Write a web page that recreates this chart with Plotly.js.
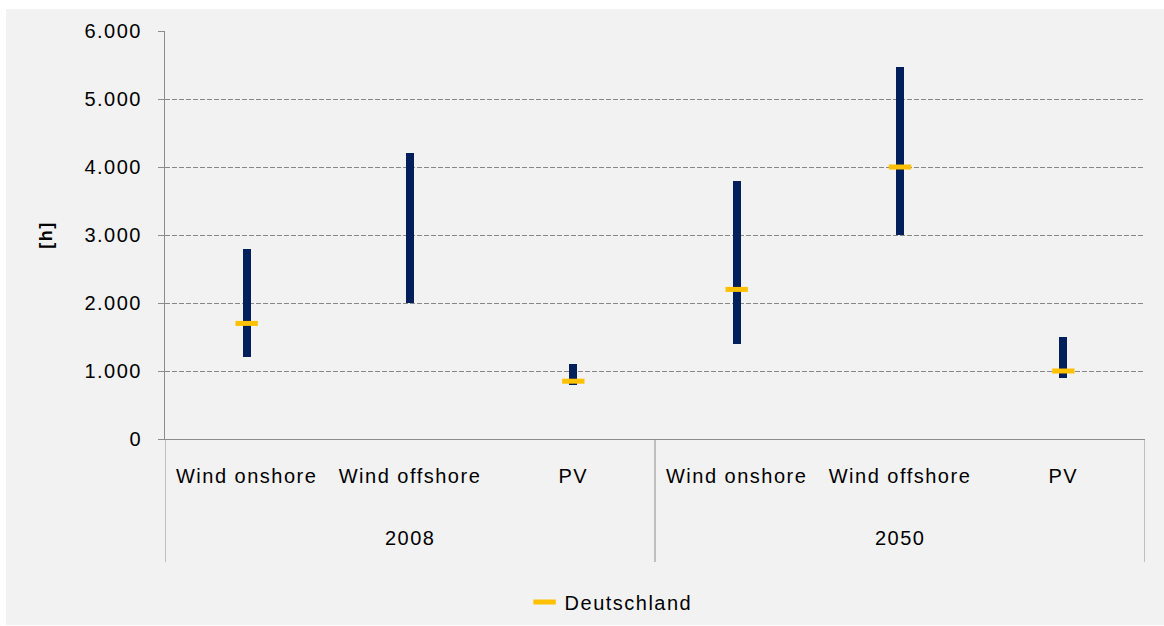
<!DOCTYPE html>
<html>
<head>
<meta charset="utf-8">
<script src="https://cdn.plot.ly/plotly-3.0.1.min.js"></script>
<style>
  html, body { margin: 0; padding: 0; background: #ffffff; }
  #chart { position: absolute; left: 6px; top: 9px; width: 1158px; height: 616px; }
  #chart text { letter-spacing: 1.5px; }
  #chart .legend, #chart .legend * { clip-path: none !important; }
</style>
</head>
<body>
<div id="chart"></div>
<script>
// Categories and groups
const categories = ["Wind onshore", "Wind offshore", "PV", "Wind onshore", "Wind offshore", "PV"];
const groups = ["2008", "2050"];
// Full-load hours range (min / max) per category
const rangeMin = [1200, 2000, 800, 1400, 3000, 900];
const rangeMax = [2800, 4200, 1100, 3800, 5470, 1500];
// Deutschland value (null = no marker)
const deutschland = [1700, null, 850, 2200, 4000, 1000];
// Y tick values / labels
const yTickVals = [0, 1000, 2000, 3000, 4000, 5000, 6000];
const yTickText = ["0", "1.000", "2.000", "3.000", "4.000", "5.000", "6.000"];

const xPos = categories.map((c, i) => i + 0.5);
const barHeights = rangeMax.map((v, i) => v - rangeMin[i]);

const font = "Liberation Sans, Arial, sans-serif";
const gray = "#8c8c8c";

const traces = [
  {
    type: "bar",
    x: xPos,
    y: barHeights,
    base: rangeMin,
    width: 0.05,
    marker: { color: "#001f5b", line: { width: 0 } },
    showlegend: false,
    hoverinfo: "skip"
  },
  {
    type: "scatter",
    mode: "markers",
    name: "Deutschland",
    x: xPos,
    y: deutschland,
    marker: { symbol: "line-ew", size: 16, color: "#ffc000", line: { color: "#ffc000", width: 5 } },
    showlegend: true
  }
];

const sepY = -(562 - 439) / 408;
const shapes = [0, 3, 6].map(x => ({
  type: "line", xref: "x", yref: "paper",
  x0: x, x1: x, y0: 0, y1: sepY,
  line: { color: gray, width: 1 }
}));

const annotations = groups.map((g, i) => ({
  text: g, xref: "x", yref: "paper",
  x: 1.5 + 3 * i, y: -(538 - 439) / 408,
  xanchor: "center", yanchor: "middle",
  showarrow: false,
  font: { family: font, size: 20, color: "#000000" }
}));

const layout = {
  width: 1158, height: 616,
  margin: { l: 159, r: 19, t: 22, b: 186 },
  paper_bgcolor: "#f2f2f2",
  plot_bgcolor: "#f2f2f2",
  font: { family: font, size: 20, color: "#000000" },
  xaxis: {
    range: [0, 6],
    tickvals: xPos,
    ticktext: categories,
    ticks: "",
    showgrid: false,
    zeroline: false,
    showline: true,
    linecolor: gray,
    linewidth: 1,
    automargin: false,
    ticklabelstandoff: 19,
    tickfont: { family: font, size: 20, color: "#000000" },
    fixedrange: true
  },
  yaxis: {
    range: [0, 6000],
    tickvals: yTickVals,
    ticktext: yTickText,
    ticks: "outside",
    ticklen: 6,
    tickcolor: gray,
    showline: true,
    linecolor: gray,
    linewidth: 1,
    showgrid: true,
    gridcolor: "#888888",
    griddash: "5px,2px",
    gridwidth: 1,
    zeroline: false,
    automargin: false,
    ticklabelstandoff: 12,
    tickfont: { family: font, size: 20, color: "#000000" },
    title: { text: "<b>[h]</b>", standoff: 34, font: { family: font, size: 18, color: "#000000" } },
    fixedrange: true
  },
  shapes: shapes,
  annotations: annotations,
  showlegend: true,
  legend: {
    orientation: "h",
    xref: "paper", yref: "container",
    x: 0.447, xanchor: "center",
    y: (616 - 593) / 616, yanchor: "middle",
    bgcolor: "rgba(0,0,0,0)",
    font: { family: font, size: 20, color: "#000000" }
  },
  bargap: 0
};

Plotly.newPlot("chart", traces, layout, { displayModeBar: false, staticPlot: true });
</script>
</body>
</html>
